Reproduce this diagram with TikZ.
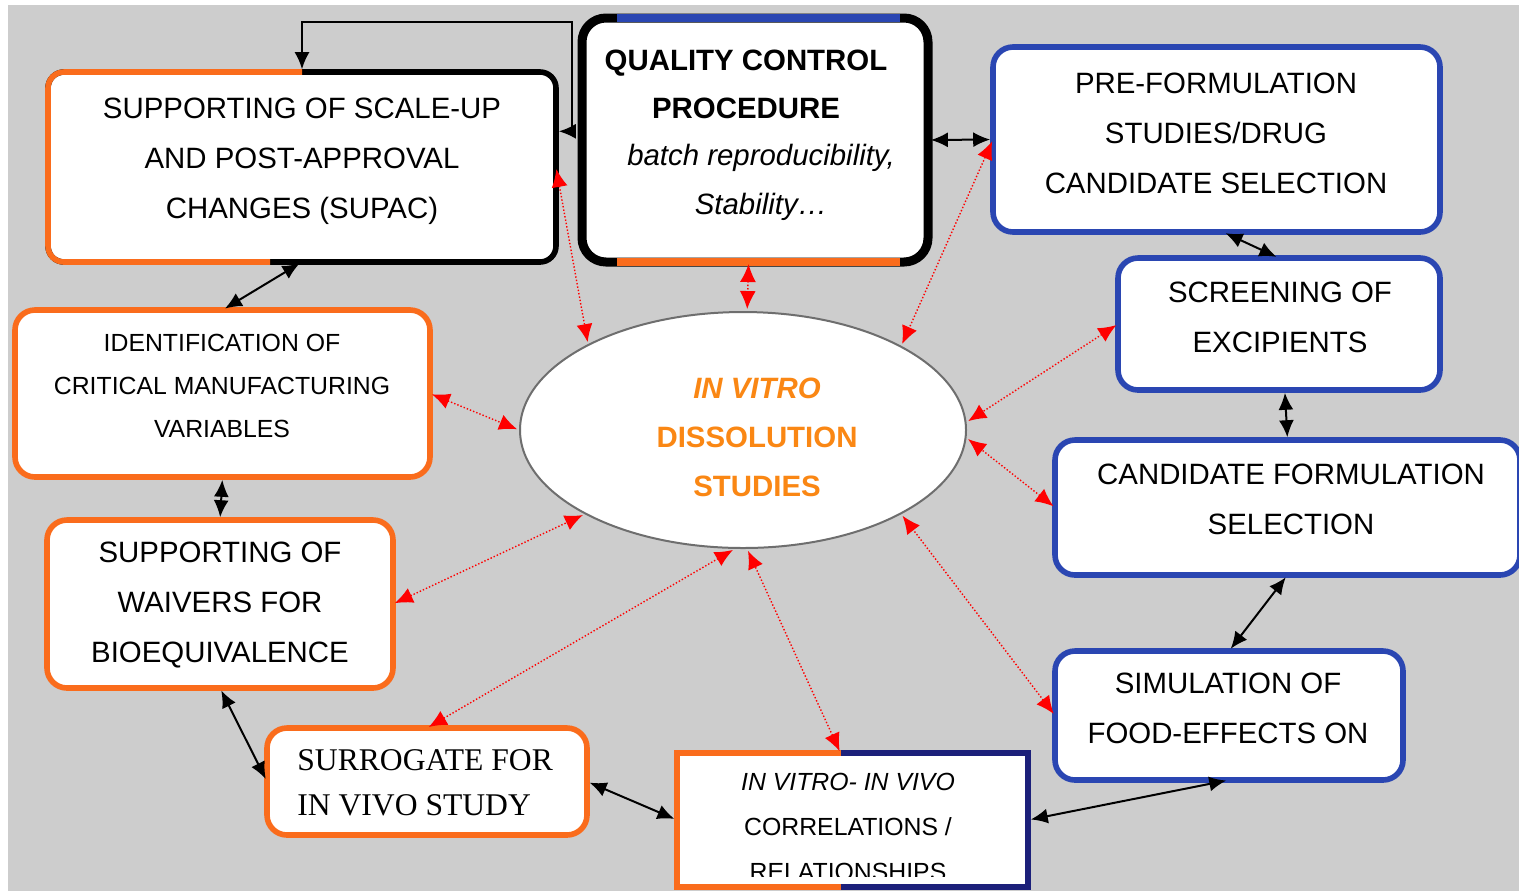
\documentclass[tikz,border=0pt]{standalone}
\usepackage{fontspec}
\setmainfont{Liberation Sans}
\newfontfamily\timesface{Liberation Serif}
\usepackage{xcolor}
\usetikzlibrary{shapes.geometric, arrows.meta, calc}

\definecolor{bggray}{RGB}{205,205,205}
\definecolor{boxorange}{RGB}{250,108,28}
\definecolor{boxblue}{RGB}{42,70,178}
\definecolor{boxnavy}{RGB}{28,32,122}
\definecolor{textorange}{RGB}{250,135,20}
\definecolor{rimgray}{RGB}{110,110,110}

\begin{document}
\begin{tikzpicture}[
        % one unit = one pixel of the layout grid
        x=0.5pt, y=-0.5pt,
        % Common look of the boxes
        panel/.style={rectangle, rounded corners=10pt, fill=white, inner sep=0pt, outer sep=0pt, line width=2.8pt},
        orangepanel/.style={panel, draw=boxorange},
        bluepanel/.style={panel, draw=boxblue},
        % Text inside the boxes
        paneltext/.style={align=center, inner sep=0pt, font=\fontsize{14.7}{25}\selectfont},
        smalltext/.style={align=center, inner sep=0pt, font=\fontsize{12.4}{21.5}\selectfont},
        % Black two-way links between neighbouring boxes
        link/.style={>={Latex[length=8.5pt,width=7.5pt]}, <->, line width=1pt, shorten >=1.4pt, shorten <=1.4pt},
        % Red dotted links to the dissolution studies
        redlink/.style={>={Latex[length=9pt,width=8pt]}, <->, red, densely dotted, line width=0.7pt, shorten >=1pt, shorten <=1pt}
    ]

    \useasboundingbox (0,0) rectangle (1519,891);
    \fill[white] (0,0) rectangle (1519,891);
    \fill[bggray] (8,5) rectangle (1519,891);

    % --- CENTRE ---
    \node (ell) [ellipse, draw=rimgray, line width=1pt, fill=white, inner sep=0pt, minimum width=223pt, minimum height=118pt] at (743,430) {};
    \node (ell-text) [paneltext, text=textorange, font=\bfseries\fontsize{14.7}{24.5}\selectfont] at (757,437) {\textit{IN VITRO}\\DISSOLUTION\\STUDIES};

    % --- TOP ROW ---
    \node (supac) [panel, draw=black, rounded corners=8pt, minimum width=254pt, minimum height=95pt] at (302,167) {};
    \draw[boxorange, line width=2.8pt, rounded corners=8pt] (supac.north) -- (supac.north west) -- (supac.south west) -- ($(supac.south)+(-32,0)$);
    \node (supac-text) [paneltext] at (302,161) {SUPPORTING OF SCALE-UP\\AND POST-APPROVAL\\CHANGES (SUPAC)};

    \node (qc) [panel, draw=black, line width=4.5pt, rounded corners=12pt, minimum width=173pt, minimum height=122pt] at (755,140) {};
    \draw[boxblue, line width=3.6pt] ($(qc.north west)+(35,0)$) -- ($(qc.north east)+(-28,0)$);
    \draw[boxorange, line width=3.6pt] ($(qc.south west)+(35,0)$) -- ($(qc.south east)+(-28,0)$);
    \node (qc-title) [paneltext, font=\bfseries\fontsize{14.7}{24}\selectfont] at (746,84) {QUALITY CONTROL\\PROCEDURE};
    \node (qc-text) [paneltext, font=\itshape\fontsize{14.7}{24.5}\selectfont] at (761,182) {batch reproducibility,\\Stability\ldots};

    \node (pre) [bluepanel, minimum width=223.5pt, minimum height=92.5pt] at (1216.5,139.5) {};
    \node (pre-text) [paneltext] at (1216,133) {PRE-FORMULATION\\STUDIES/DRUG\\CANDIDATE SELECTION};

    % --- RIGHT COLUMN ---
    \node (screen) [bluepanel, minimum width=161pt, minimum height=66pt] at (1279,324) {};
    \node (screen-text) [paneltext] at (1280,317) {SCREENING OF\\EXCIPIENTS};

    \node (cand) [bluepanel, minimum width=232.5pt, minimum height=67.5pt] at (1287.5,507.5) {};
    \node (cand-text) [paneltext] at (1291,499.5) {CANDIDATE FORMULATION\\SELECTION};

    \node (sim) [bluepanel, minimum width=174pt, minimum height=64.5pt] at (1229,715.5) {};
    \node (sim-text) [paneltext] at (1228,708.5) {SIMULATION OF\\FOOD-EFFECTS ON};

    % --- BOTTOM ROW ---
    \node (ivivc) [rectangle, fill=white, inner sep=0pt, outer sep=0pt, minimum width=175.5pt, minimum height=67pt] at (852.5,820) {};
    \coordinate (split) at ($(ivivc.north)+(-12,0)$);
    \draw[boxorange, line width=2.8pt] (split) -- (ivivc.north west) -- (ivivc.south west) -- ($(ivivc.south)+(-12,0)$);
    \draw[boxnavy, line width=2.8pt] (split) -- (ivivc.north east) -- (ivivc.south east) -- ($(ivivc.south)+(-12,0)$);
    \begin{scope}
        \clip (ivivc.north west) rectangle ($(ivivc.south east)+(0,-11)$);
        \node (ivivc-text) [smalltext, font=\fontsize{12.4}{22.5}\selectfont] at (848,827) {\textit{IN VITRO- IN VIVO}\\CORRELATIONS /\\RELATIONSHIPS};
    \end{scope}

    \node (surr) [orangepanel, minimum width=160pt, minimum height=53.5pt] at (427,781.5) {};
    \node (surr-text) [align=left, inner sep=0pt, anchor=west, font=\timesface\fontsize{15.8}{22.5}\selectfont] at (297,782.5) {SURROGATE FOR\\IN VIVO STUDY};

    % --- LEFT COLUMN ---
    \node (bioeq) [orangepanel, minimum width=173pt, minimum height=84pt] at (220,604) {};
    \node (bioeq-text) [paneltext] at (220,605) {SUPPORTING OF\\WAIVERS FOR\\BIOEQUIVALENCE};

    \node (ident) [orangepanel, minimum width=207.5pt, minimum height=83.5pt] at (222.5,393.5) {};
    \node (ident-text) [smalltext] at (222,386) {IDENTIFICATION OF\\CRITICAL MANUFACTURING\\VARIABLES};

    % --- BLACK LINKS ---
    \draw[link] (qc.east) -- (pre.west);
    \draw[link] (pre.-86) -- (screen.north);
    \draw[link] (screen.-85) -- (cand.north);
    \draw[link] (cand.south) -- (sim.north);
    \draw[link] (sim.south) -- (ivivc.east);
    \draw[link] (ivivc.west) -- (surr.east);
    \draw[link] (surr.west) -- (bioeq.south);
    \draw[link] (bioeq.north) -- (ident.south);
    \draw[link] (ident.north) -- (supac.south);
    \coordinate (loop) at (572,22);
    \draw[link] (supac.north) |- (loop) |- (supac.8);

    % --- RED LINKS ---
    \draw[redlink] (supac.east) -- (ell.151);
    \draw[redlink] (qc.-93) -- (ell.88);
    \draw[redlink] (pre.west) -- (ell.28);
    \draw[redlink] (screen.west) -- (ell.2);
    \draw[redlink] (cand.west) -- (ell.-2);
    \draw[redlink] (sim.west) -- (ell.-28);
    \draw[redlink] (split) -- (ell.-88);
    \draw[redlink] (surr.north) -- (ell.-94);
    \draw[redlink] (bioeq.east) -- (ell.-152);
    \draw[redlink] (ident.east) -- (ell.west);

\end{tikzpicture}
\end{document}
